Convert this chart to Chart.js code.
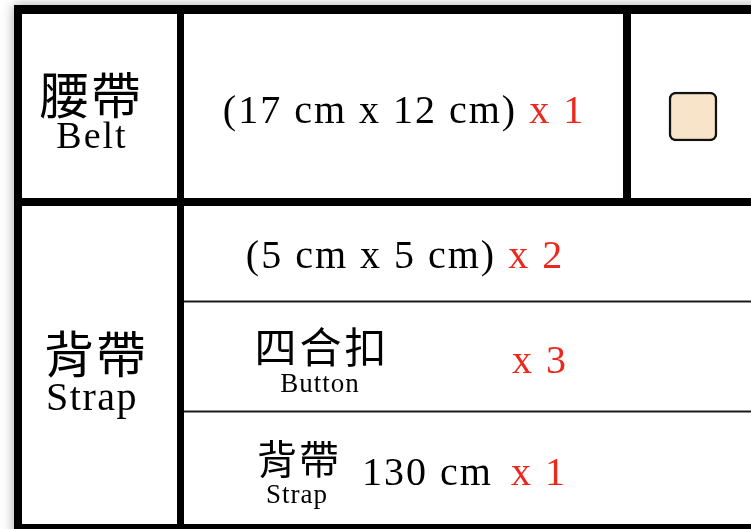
<!DOCTYPE html>
<html>
<head>
<meta charset="utf-8">
<script src="https://cdn.jsdelivr.net/npm/chart.js@4.4.1/dist/chart.umd.min.js"></script>
<style>
  html, body { margin: 0; padding: 0; background: #fff; }
  #wrap { width: 751px; height: 529px; }
</style>
</head>
<body>
<div id="wrap"><canvas id="partsChart" width="751" height="529"></canvas></div>
<script>
// parts list
const groupNames = ["腰帶", "背帶"];
const groupEnglish = ["Belt", "Strap"];
const itemLabels = ["(17 cm x 12 cm)", "(5 cm x 5 cm)", "四合扣", "130 cm"];
const itemSubLabels = ["", "", "Button", "背帶"];
const itemCounts = [1, 2, 3, 1];
const swatchColors = ["#f7e4c9"];

const red = "rgb(236, 40, 30)";
const serif = "'Liberation Serif', 'DejaVu Serif', serif";
const cjk = "'Noto Sans CJK TC', 'Noto Sans CJK SC', sans-serif";

// table grid, in the same units as the axes (0..751 across, 0..529 down)
const rowEdges = [9.5, 202, 301.5, 411.5, 527];
const colEdges = [18, 180.5, 627, 751];

function segment(x1, y1, x2, y2, width, color) {
  return {
    type: "line",
    data: [{ x: x1, y: y1 }, { x: x2, y: y2 }],
    borderColor: color || "#000",
    borderWidth: width,
    pointRadius: 0,
    borderCapStyle: "butt",
    clip: false,
  };
}

const gridLines = [
  segment(14, rowEdges[0], 751, rowEdges[0], 9),
  segment(14, rowEdges[4], 751, rowEdges[4], 6),
  segment(colEdges[0], 5, colEdges[0], 529, 8),
  segment(colEdges[1], 5, colEdges[1], 529, 7),
  segment(14, rowEdges[1], 751, rowEdges[1], 8),
  segment(colEdges[2], 5, colEdges[2], rowEdges[1], 8),
  segment(183, rowEdges[2], 751, rowEdges[2], 2, "#1a1a1a"),
  segment(183, rowEdges[3], 751, rowEdges[3], 2, "#1a1a1a"),
];

const swatch = {
  type: "bar",
  data: [{ x: 693, y: [92, 141] }],
  backgroundColor: swatchColors[0],
  borderColor: "#111",
  borderWidth: 2.5,
  borderRadius: 7,
  borderSkipped: false,
  barThickness: 48,
};

// soft shadow round the table, like the scanned sheet
const shadowPlugin = {
  id: "shadow",
  beforeDatasetsDraw(chart) {
    const { ctx, scales } = chart;
    const x0 = scales.x.getPixelForValue(14);
    const y0 = scales.y.getPixelForValue(5);
    ctx.save();
    ctx.shadowColor = "rgba(0,0,0,0.35)";
    ctx.shadowBlur = 12;
    ctx.fillStyle = "#fff";
    ctx.fillRect(x0, y0, 760, 540);
    ctx.restore();
  },
};

function drawText(ctx, text, x, y, font, color, align, spacing) {
  ctx.font = font;
  ctx.fillStyle = color;
  ctx.textAlign = align || "left";
  ctx.letterSpacing = (spacing || 0) + "px";
  ctx.fillText(text, x, y);
}

function widthOf(ctx, text, font, spacing) {
  ctx.font = font;
  ctx.letterSpacing = (spacing || 0) + "px";
  return ctx.measureText(text).width;
}

const textPlugin = {
  id: "cellText",
  afterDatasetsDraw(chart) {
    const { ctx, scales } = chart;
    const px = (v) => scales.x.getPixelForValue(v);
    const py = (v) => scales.y.getPixelForValue(v);
    const big = "40px " + serif;
    const small = "27px " + serif;
    ctx.save();

    // left column groups
    ctx.textBaseline = "middle";
    drawText(ctx, groupNames[0], px(91), py(95), "50px " + cjk, "#000", "center", 2);
    drawText(ctx, groupNames[1], px(96), py(354), "50px " + cjk, "#000", "center", 2);
    ctx.textBaseline = "alphabetic";
    drawText(ctx, groupEnglish[0], px(92), py(148), "38px " + serif, "#000", "center", 2);
    drawText(ctx, groupEnglish[1], px(92), py(410), big, "#000", "center", 1.5);

    // rows 1 and 2: size text with the count in red, centred
    [[0, 404, 123], [1, 405, 268]].forEach(([i, cx, base]) => {
      const a = itemLabels[i];
      const b = " x " + itemCounts[i];
      const wa = widthOf(ctx, a, big, 2);
      const wb = widthOf(ctx, b, big, 2);
      const left = px(cx) - (wa + wb) / 2;
      drawText(ctx, a, left, py(base), big, "#000", "left", 2);
      drawText(ctx, b, left + wa, py(base), big, red, "left", 2);
    });

    // row 3: button
    ctx.textBaseline = "middle";
    drawText(ctx, itemLabels[2], px(322), py(347), "42px " + cjk, "#000", "center", 3);
    ctx.textBaseline = "alphabetic";
    drawText(ctx, itemSubLabels[2], px(320), py(392), small, "#000", "center", 1);
    drawText(ctx, "x " + itemCounts[2], px(512), py(373), big, red, "left", 2);

    // row 4: strap
    ctx.textBaseline = "middle";
    drawText(ctx, itemSubLabels[3], px(299), py(459), "40px " + cjk, "#000", "center", 2);
    ctx.textBaseline = "alphabetic";
    drawText(ctx, groupEnglish[1], px(297), py(503), small, "#000", "center", 1);
    drawText(ctx, itemLabels[3], px(362), py(485), big, "#000", "left", 2);
    drawText(ctx, "x " + itemCounts[3], px(511), py(485), big, red, "left", 2);

    ctx.restore();
  },
};

document.addEventListener("DOMContentLoaded", function () {
  const ctx = document.getElementById("partsChart").getContext("2d");

  new Chart(ctx, {
    type: "scatter",
    data: {
      datasets: [...gridLines, swatch],
    },
    options: {
      responsive: false,
      animation: false,
      devicePixelRatio: 1,
      layout: { padding: 0 },
      plugins: {
        legend: { display: false },
        tooltip: { enabled: false },
      },
      scales: {
        x: { type: "linear", min: 0, max: 751, offset: false, display: false },
        y: { type: "linear", min: 0, max: 529, reverse: true, display: false },
      },
    },
    plugins: [shadowPlugin, textPlugin],
  });
});
</script>
</body>
</html>
